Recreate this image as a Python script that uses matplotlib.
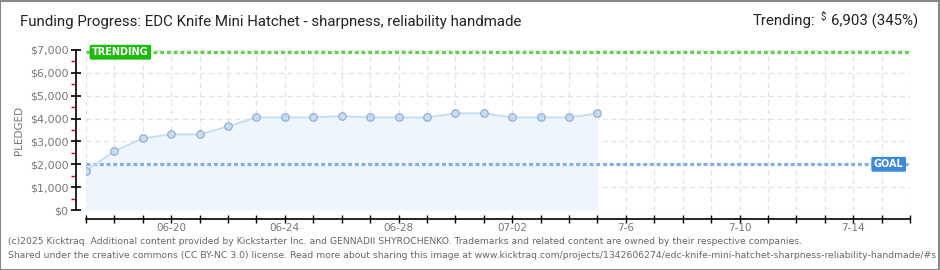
import matplotlib
matplotlib.use("Agg")
import matplotlib.pyplot as plt
from matplotlib.patches import Rectangle
from matplotlib.ticker import MultipleLocator, FixedLocator

# ---- data ----
dates = ["06-17", "06-18", "06-19", "06-20", "06-21", "06-22", "06-23", "06-24",
         "06-25", "06-26", "06-27", "06-28", "06-29", "06-30", "07-01", "07-02",
         "07-03", "07-04", "07-05"]
pledged = [1720, 2580, 3135, 3310, 3310, 3660, 4050, 4050,
           4050, 4110, 4050, 4050, 4050, 4230, 4230, 4050,
           4050, 4050, 4230]
axis_days = 29  # 06-17 .. 07-16
tick_label_pos = [3, 7, 11, 15, 19, 23, 27]
tick_labels = ["06-20", "06-24", "06-28", "07-02", "7-6", "7-10", "7-14"]
goal = 2000
trending = 6903
y_ticks = [0, 1000, 2000, 3000, 4000, 5000, 6000, 7000]
y_tick_labels = ["$0", "$1,000", "$2,000", "$3,000", "$4,000", "$5,000", "$6,000", "$7,000"]

title = "Funding Progress: EDC Knife Mini Hatchet - sharpness, reliability handmade"
footer1 = ("(c)2025 Kicktraq. Additional content provided by Kickstarter Inc. and GENNADII SHYROCHENKO. "
           "Trademarks and related content are owned by their respective companies.")
footer2 = ("Shared under the creative commons (CC BY-NC 3.0) license. Read more about sharing this image at "
           "www.kicktraq.com/projects/1342606274/edc-knife-mini-hatchet-sharpness-reliability-handmade/#s")

HEAD = ["Roboto", "DejaVu Sans"]

W, H = 940, 270
fig = plt.figure(figsize=(W / 100, H / 100), dpi=100)
fig.patch.set_facecolor("white")
ax = fig.add_axes([86 / W, 1 - 210 / H, (910 - 86) / W, (210 - 50) / H])

x = list(range(len(pledged)))
ax.fill_between(x, pledged, 0, color="#eef5fd", zorder=1, lw=0)
ax.plot(x, pledged, color="#c2dcf6", lw=1.3, zorder=3)
ax.plot(x, pledged, ls="none", marker="o", ms=5.4, mfc="#c5ddf7", mec="#97aecb", mew=0.9, zorder=4)

ax.axhline(trending, color="#66cc55", lw=2.3, ls=(0, (1.2, 0.9)), zorder=2)
ax.axhline(goal, color="#80b0e2", lw=2.3, ls=(0, (1.2, 0.9)), zorder=2)

ax.set_xlim(0, axis_days)
ax.set_ylim(0, 7000)

# grid
ax.xaxis.set_major_locator(MultipleLocator(1))
ax.set_yticks(y_ticks)
ax.set_yticklabels(y_tick_labels)
ax.yaxis.set_minor_locator(FixedLocator([500, 1500, 2500, 3500, 4500, 5500, 6500]))
ax.grid(True, which="major", color="#e2e2e2", ls=(0, (4, 3)), lw=0.9, zorder=0)
ax.set_axisbelow(True)

ax.set_xticklabels([])
for p, lab in zip(tick_label_pos, tick_labels):
    ax.text(p, -0.113, lab, transform=ax.get_xaxis_transform(), ha="center", va="center",
            fontsize=7.5, color="#777777")

for s in ["top", "right"]:
    ax.spines[s].set_visible(False)
ax.spines["left"].set_position(("outward", 7.2))
ax.spines["bottom"].set_position(("outward", 6.5))
ax.spines["left"].set_linewidth(1.2)
ax.spines["bottom"].set_linewidth(1.2)

ax.tick_params(axis="y", which="major", direction="inout", length=7, width=1.2,
               color="black", labelsize=8, labelcolor="#777777", pad=2)
ax.tick_params(axis="y", which="minor", direction="out", length=3.5, width=1, color="#dd0000")
ax.tick_params(axis="x", which="major", direction="inout", length=6, width=1, color="black")

ax.set_ylabel("PLEDGED", fontsize=7.5, color="#777777", labelpad=4)

# labels on lines
ax.text(1.21, trending, "TRENDING", ha="center", va="center", fontsize=7, color="white",
        fontweight="bold", zorder=6,
        bbox=dict(boxstyle="round,pad=0.25,rounding_size=0.15", fc="#1fba0f", ec="none"))
ax.text(28.25, goal, "GOAL", ha="center", va="center", fontsize=7, color="white",
        fontweight="bold", zorder=6,
        bbox=dict(boxstyle="round,pad=0.25,rounding_size=0.15", fc="#3d88d8", ec="none"))

# header
fig.text(20 / W, 1 - 22 / H, title, ha="left", va="center", fontsize=10.8, color="#222222",
         family=HEAD)
fig.text(753 / W, 1 - 21 / H, "Trending:", ha="left", va="center", fontsize=10.8,
         color="#222222", family=HEAD)
fig.text(826 / W, 1 - 17 / H, "$", ha="right", va="center", fontsize=7,
         color="#222222", family=HEAD)
fig.text(918 / W, 1 - 21 / H, "6,903 (345%)", ha="right", va="center", fontsize=10.8,
         color="#222222", family=HEAD)

# footer
fig.text(8 / W, 1 - 242 / H, footer1, ha="left", va="center", fontsize=6.7, color="#666666")
fig.text(8 / W, 1 - 256 / H, footer2, ha="left", va="center", fontsize=6.7, color="#666666")

# border
fig.patches.append(Rectangle((0.0005, 0.001), 0.998, 0.997, transform=fig.transFigure,
                             fill=False, ec="#888888", lw=1.5))

fig.savefig("out.png", dpi=100)
